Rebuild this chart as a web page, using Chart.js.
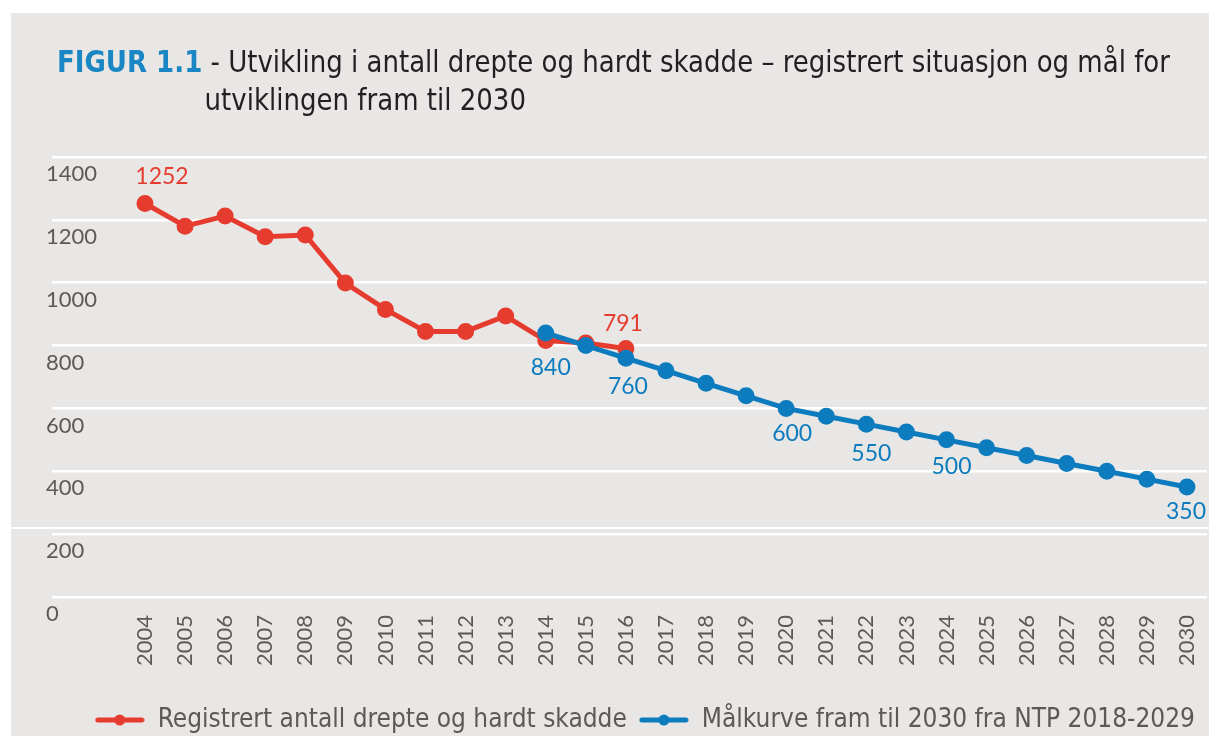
<!DOCTYPE html>
<html>
<head>
<meta charset="utf-8">
<script src="https://cdn.jsdelivr.net/npm/chart.js@4"></script>
<style>
  html, body { margin: 0; padding: 0; background: #ffffff; }
  #wrap { position: relative; width: 1209px; height: 736px; overflow: hidden; }
  #panel { position: absolute; left: 11px; top: 13px; right: 0; bottom: 0; background: #e8e7e5; }
  #seam { position: absolute; left: 11px; right: 0; top: 527px; height: 2px; background: #ffffff; }
  #title { position: absolute; left: 57px; top: 42px; font-family: "Liberation Sans Narrow", "DejaVu Sans Condensed", sans-serif;
           font-size: 31px; line-height: 38px; color: #231f20; white-space: nowrap; transform-origin: 0 0; }
  #title .fig { color: #1a87c4; font-weight: bold; }
  #title .l2 { position: absolute; left: 158px; top: 38px; transform-origin: 0 0; }
  canvas { position: absolute; left: 0; top: 0; }
</style>
</head>
<body>
<div id="wrap">
  <div id="panel"></div>
  <div id="seam"></div>
  <div id="title">
    <span id="l1"><span class="fig">FIGUR 1.1</span> - Utvikling i antall drepte og hardt skadde – registrert situasjon og mål for</span>
    <span class="l2" id="l2">utviklingen fram til 2030</span>
  </div>
  <canvas id="myChart" width="1209" height="736"></canvas>
</div>
<script>
const years = [2004, 2005, 2006, 2007, 2008, 2009, 2010, 2011, 2012, 2013, 2014, 2015, 2016, 2017,
  2018, 2019, 2020, 2021, 2022, 2023, 2024, 2025, 2026, 2027, 2028, 2029, 2030];
const registrert = [1252, 1180, 1212, 1146, 1152, 999, 915, 845, 845, 894, 816, 808, 791]; // 2004-2016
const malkurve = [840, 800, 760, 720, 680, 640, 600, 575, 550, 525, 500, 475, 450, 425, 400, 375, 350]; // 2014-2030
const yTicks = [0, 200, 400, 600, 800, 1000, 1200, 1400];
const seriesNames = ['Registrert antall drepte og hardt skadde', 'Målkurve fram til 2030 fra NTP 2018-2029'];

const red = '#e63c2f';
const blue = '#0d7cbf';
const grey = '#5e5957';

// squeeze the title to the condensed width of the original
const l1 = document.getElementById('l1');
const sx = (1170 - 57) / l1.getBoundingClientRect().width;
document.getElementById('title').style.transform = 'scaleX(' + sx + ')';

// which points get a value label, and how far the text sits from the point
const labelOffsets = [
  { 0: [17, -27], 12: [-3, -25] },
  { 0: [5, 35], 2: [2, 28], 6: [6, 25], 8: [5, 29], 10: [5, 27], 16: [-1, 25] }
];

function legendMarker(color) {
  const c = document.createElement('canvas');
  c.width = 50; c.height = 14;
  const g = c.getContext('2d');
  g.strokeStyle = color; g.lineWidth = 5; g.lineCap = 'round';
  g.beginPath(); g.moveTo(3, 7); g.lineTo(47, 7); g.stroke();
  g.fillStyle = color;
  g.beginPath(); g.arc(25, 7, 5.5, 0, Math.PI * 2); g.fill();
  return c;
}
const markers = [legendMarker(red), legendMarker(blue)];

const valueLabels = {
  id: 'valueLabels',
  afterDatasetsDraw(chart) {
    const ctx = chart.ctx;
    ctx.save();
    ctx.font = '23px Lato, "Open Sans", sans-serif';
    ctx.textAlign = 'center';
    ctx.textBaseline = 'middle';
    chart.data.datasets.forEach((ds, d) => {
      const meta = chart.getDatasetMeta(d);
      Object.keys(labelOffsets[d]).forEach(k => {
        const pt = meta.data[k];
        const off = labelOffsets[d][k];
        ctx.fillStyle = ds.borderColor;
        ctx.fillText(String(ds.data[k].y), pt.x + off[0], pt.y + off[1]);
      });
    });
    ctx.restore();
  }
};

// no side padding for the rotated year labels, so the grid runs to the panel edge
const noSidePadding = s => { s.paddingLeft = 0; s.paddingRight = 0; };

const ctx = document.getElementById('myChart');

new Chart(ctx, {
  type: 'line',
  data: {
    datasets: [{
      label: seriesNames[0],
      data: registrert.map((v, i) => ({ x: years[i], y: v })),
      borderColor: red,
      backgroundColor: red,
      borderWidth: 5,
      pointRadius: 6,
      pointHoverRadius: 6,
      order: 1
    }, {
      label: seriesNames[1],
      data: malkurve.map((v, i) => ({ x: years[i + 10], y: v })),
      borderColor: blue,
      backgroundColor: blue,
      borderWidth: 5,
      pointRadius: 6,
      pointHoverRadius: 6,
      order: 0
    }]
  },
  options: {
    responsive: false,
    animation: false,
    devicePixelRatio: 1,
    layout: { autoPadding: false, padding: { left: 52, right: 2, top: 157, bottom: -7 } },
    plugins: {
      tooltip: { enabled: false },
      legend: {
        position: 'bottom',
        align: 'end',
        labels: {
          usePointStyle: true,
          pointStyleWidth: 50,
          padding: 12,
          color: grey,
          font: { family: '"Liberation Sans Narrow", "DejaVu Sans Condensed", sans-serif', size: 26 },
          sort: (a, b) => a.datasetIndex - b.datasetIndex,
          generateLabels: chart => Chart.defaults.plugins.legend.labels.generateLabels(chart)
            .map(l => Object.assign(l, { pointStyle: markers[l.datasetIndex] }))
        }
      }
    },
    scales: {
      x: {
        type: 'linear',
        min: 2001.68,
        max: 2030.5,
        afterBuildTicks: s => { s.ticks = years.map(v => ({ value: v })); },
        afterFit: s => { s.height = 98; noSidePadding(s); },
        afterUpdate: noSidePadding,
        grid: { display: false, drawTicks: false },
        border: { display: false },
        ticks: {
          autoSkip: false,
          minRotation: 90,
          maxRotation: 90,
          padding: 18,
          color: grey,
          font: { family: 'Lato, "Open Sans", sans-serif', size: 22 },
          callback: v => String(v)
        }
      },
      y: {
        min: 0,
        max: 1400,
        afterBuildTicks: s => { s.ticks = yTicks.map(v => ({ value: v })); },
        grid: { color: '#ffffff', lineWidth: 2.5, drawTicks: false },
        border: { display: false },
        ticks: {
          mirror: true,
          padding: -2,
          labelOffset: 17,
          color: grey,
          font: { family: 'Lato, "Open Sans", sans-serif', size: 22 },
          callback: v => String(v)
        }
      }
    }
  },
  plugins: [valueLabels]
});
</script>
</body>
</html>
